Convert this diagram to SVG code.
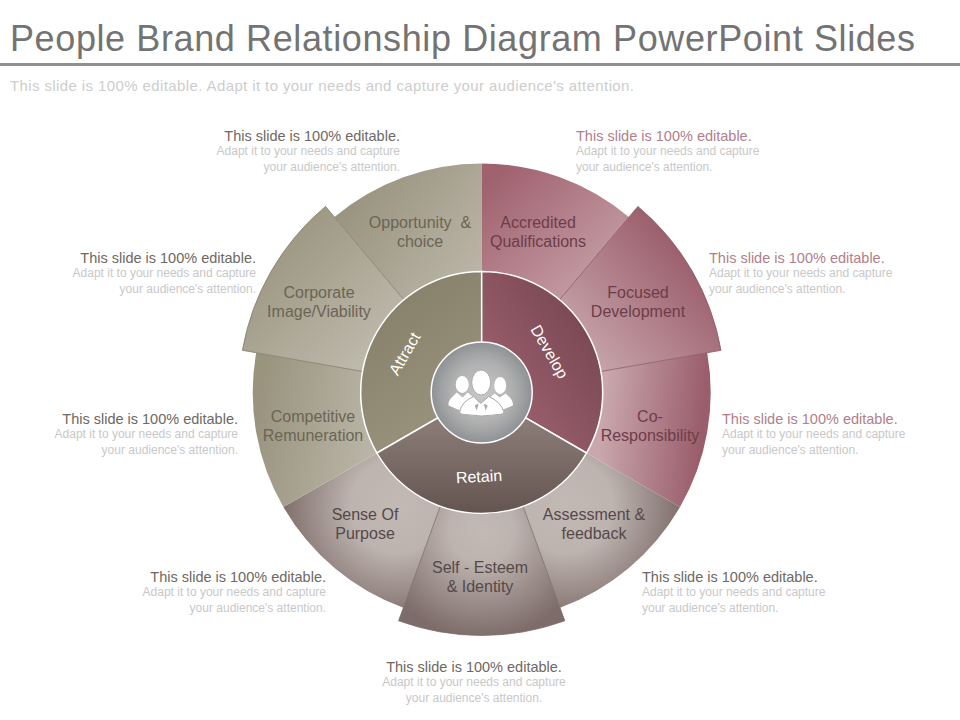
<svg xmlns="http://www.w3.org/2000/svg" width="960" height="720" viewBox="0 0 960 720">
<style>
text{font-family:"Liberation Sans",Arial,sans-serif}
.title{font-size:36px;fill:#737373}
.sub{font-size:15px;fill:#cdcdcd}
.h{font-size:14.5px;fill:#6d6862}
.hr{font-size:14.5px;fill:#b0808b}
.b{font-size:12px;fill:#c8c8c8}
.l{font-size:16px;text-anchor:middle}
.t{fill:#6a6555}.r{fill:#6e3d49}.g{fill:#55494a}
.w{font-size:16px;fill:#fff;text-anchor:middle}
.e{text-anchor:end}
.ring{stroke:#fff;stroke-width:1.5}
</style>
<defs>
<linearGradient id="tg1" gradientUnits="userSpaceOnUse" x1="340" y1="200" x2="470" y2="300"><stop offset="0" stop-color="#98927d"/><stop offset="1" stop-color="#bcb8aa"/></linearGradient>
<linearGradient id="tg2" gradientUnits="userSpaceOnUse" x1="260" y1="240" x2="370" y2="350"><stop offset="0" stop-color="#9a947f"/><stop offset="1" stop-color="#bcb8aa"/></linearGradient>
<linearGradient id="tg3" gradientUnits="userSpaceOnUse" x1="255" y1="420" x2="370" y2="440"><stop offset="0" stop-color="#9a947f"/><stop offset="1" stop-color="#b9b5a6"/></linearGradient>
<linearGradient id="rg1" gradientUnits="userSpaceOnUse" x1="490" y1="180" x2="600" y2="300"><stop offset="0" stop-color="#a0626f"/><stop offset="1" stop-color="#c8a3aa"/></linearGradient>
<linearGradient id="rg2" gradientUnits="userSpaceOnUse" x1="680" y1="250" x2="570" y2="350"><stop offset="0" stop-color="#9c606d"/><stop offset="1" stop-color="#c9a7ad"/></linearGradient>
<linearGradient id="rg3" gradientUnits="userSpaceOnUse" x1="600" y1="430" x2="700" y2="440"><stop offset="0" stop-color="#c9a7ad"/><stop offset="1" stop-color="#9a5d6b"/></linearGradient>
<radialGradient id="ga" gradientUnits="userSpaceOnUse" cx="565" cy="505" r="118"><stop offset="0" stop-color="#c2b9b5"/><stop offset=".4" stop-color="#bdb3af"/><stop offset="1" stop-color="#7d6c69"/></radialGradient>
<radialGradient id="gs" gradientUnits="userSpaceOnUse" cx="397" cy="505" r="118"><stop offset="0" stop-color="#c2b9b5"/><stop offset=".4" stop-color="#bdb3af"/><stop offset="1" stop-color="#7d6c69"/></radialGradient>
<radialGradient id="gm" gradientUnits="userSpaceOnUse" cx="481" cy="530" r="108"><stop offset="0" stop-color="#c2b9b5"/><stop offset=".3" stop-color="#bdb3af"/><stop offset="1" stop-color="#7d6c69"/></radialGradient>
<linearGradient id="ma" gradientUnits="userSpaceOnUse" x1="380" y1="300" x2="470" y2="420"><stop offset="0" stop-color="#87816b"/><stop offset="1" stop-color="#9a947f"/></linearGradient>
<linearGradient id="md" gradientUnits="userSpaceOnUse" x1="590" y1="340" x2="500" y2="400"><stop offset="0" stop-color="#7c4a55"/><stop offset="1" stop-color="#9b5f6d"/></linearGradient>
<linearGradient id="mr" gradientUnits="userSpaceOnUse" x1="481" y1="425" x2="481" y2="512"><stop offset="0" stop-color="#897a76"/><stop offset="1" stop-color="#655551"/></linearGradient>
<radialGradient id="cg" cx=".5" cy=".5" r=".5"><stop offset="0" stop-color="#c9c9c9"/><stop offset=".6" stop-color="#b0b0b0"/><stop offset="1" stop-color="#8e9295"/></radialGradient>
</defs>
<g id="header">
<text class="title" x="10" y="51" textLength="905" lengthAdjust="spacing">People Brand Relationship Diagram PowerPoint Slides</text>
<rect x="0" y="63" width="960" height="3" fill="#8f8f8f"/>
<text class="sub" x="10" y="91" textLength="624" lengthAdjust="spacing">This slide is 100% editable. Adapt it to your needs and capture your audience's attention.</text>
</g>
<g transform="translate(.7 .5)">
<g id="seg-opportunity"><path d="M481 271A121 121 0 0 0 403.2 299.3L333.8 216.6A229 229 0 0 1 481 163Z" fill="url(#tg1)"/></g>
<g id="seg-accredited"><path d="M481 271V163A229 229 0 0 1 628.2 216.6L558.8 299.3A121 121 0 0 0 481 271Z" fill="url(#rg1)"/></g>
<g id="seg-coresp"><path d="M600.2 371L706.5 352.2A229 229 0 0 1 679.3 506.5L585.8 452.5A121 121 0 0 0 600.2 371Z" fill="url(#rg3)"/></g>
<g id="seg-assessment"><path d="M585.8 452.5L679.3 506.5A229 229 0 0 1 559.3 607.2L522.4 505.7A121 121 0 0 0 585.8 452.5Z" fill="url(#ga)"/></g>
<g id="seg-sense"><path d="M439.6 505.7L402.7 607.2A229 229 0 0 1 282.7 506.5L376.2 452.5A121 121 0 0 0 439.6 505.7Z" fill="url(#gs)"/></g>
<g id="seg-competitive"><path d="M376.2 452.5L282.7 506.5A229 229 0 0 1 255.5 352.2L361.8 371A121 121 0 0 0 376.2 452.5Z" fill="url(#tg3)"/></g>
<g id="seg-corporate"><path d="M361.8 371L241.7 349.8A243 243 0 0 1 324.8 205.9L403.2 299.3A121 121 0 0 0 361.8 371Z" fill="url(#tg2)" stroke="#7f7a68" stroke-width=".8"/></g>
<g id="seg-focused"><path d="M558.8 299.3L637.2 205.9A243 243 0 0 1 720.3 349.8L600.2 371A121 121 0 0 0 558.8 299.3Z" fill="url(#rg2)" stroke="#8a5561" stroke-width=".8"/></g>
<g id="seg-self"><path d="M522.4 505.7L564.1 620.3A243 243 0 0 1 397.9 620.3L439.6 505.7A121 121 0 0 0 522.4 505.7Z" fill="url(#gm)" stroke="#7d6c69" stroke-width=".8"/></g>
<g id="ring-attract"><path d="M481 392L376.2 452.5A121 121 0 0 1 481 271Z" fill="url(#ma)" class="ring"/></g>
<g id="ring-develop"><path d="M481 392V271A121 121 0 0 1 585.8 452.5Z" fill="url(#md)" class="ring"/></g>
<g id="ring-retain"><path d="M481 392L585.8 452.5A121 121 0 0 1 376.2 452.5Z" fill="url(#mr)" class="ring"/></g>
<g id="hub"><circle cx="481" cy="392" r="50.5" fill="url(#cg)" stroke="#fff" stroke-width="1.5"/>
<g fill="#fff">
<ellipse cx="461.5" cy="384" rx="6.5" ry="8.5"/><path d="M456 392L450 398Q447 402 448 405Q456 409 466 412L476 400L467 392L462 397Z"/>
<ellipse cx="499.5" cy="385" rx="6" ry="8.5"/><path d="M505 393L510 398Q513 402 512 405Q506 408 496 411L486 400L494 393L499 397Z"/>
<path d="M459 411Q461 401 473 396L480 403L488 396Q500 401 503 411Q503 414 498 414Q481 417 464 414Q459 414 459 411Z" stroke="#a9a9a9" stroke-width="1"/>
<ellipse cx="480.5" cy="382" rx="9.5" ry="12.5" stroke="#a9a9a9" stroke-width="1"/>
<path d="M478 403L476 410L474 405ZM483 403L485 410L487 405Z" fill="#a9a9a9"/>
</g></g>
</g>
<g id="labels-ring">
<text class="w" transform="translate(405,354) rotate(-60)" x="0" y="5">Attract</text>
<text class="w" transform="translate(549,352) rotate(60)" x="0" y="5">Develop</text>
<text class="w" transform="translate(479,477) rotate(-3)" x="0" y="5">Retain</text>
</g>
<g id="labels-seg">
<text class="l t" x="420" y="228" xml:space="preserve">Opportunity  &amp;</text><text class="l t" x="420" y="247">choice</text>
<text class="l t" x="319" y="298">Corporate</text><text class="l t" x="319" y="317">Image/Viability</text>
<text class="l t" x="313" y="422">Competitive</text><text class="l t" x="313" y="441">Remuneration</text>
<text class="l r" x="538" y="228">Accredited</text><text class="l r" x="538" y="247">Qualifications</text>
<text class="l r" x="638" y="298">Focused</text><text class="l r" x="638" y="317">Development</text>
<text class="l r" x="650" y="422">Co-</text><text class="l r" x="650" y="441">Responsibility</text>
<text class="l g" x="594" y="520">Assessment &amp;</text><text class="l g" x="594" y="539">feedback</text>
<text class="l g" x="480" y="573">Self - Esteem</text><text class="l g" x="480" y="592">&amp; Identity</text>
<text class="l g" x="365" y="520">Sense Of</text><text class="l g" x="365" y="539">Purpose</text>
</g>
<g id="captions">
<g><text class="h e" x="400" y="141">This slide is 100% editable.</text><text class="b e" x="400" y="155">Adapt it to your needs and capture</text><text class="b e" x="400" y="171">your audience's attention.</text></g>
<g><text class="h e" x="256" y="263">This slide is 100% editable.</text><text class="b e" x="256" y="277">Adapt it to your needs and capture</text><text class="b e" x="256" y="293">your audience's attention.</text></g>
<g><text class="h e" x="238" y="424">This slide is 100% editable.</text><text class="b e" x="238" y="438">Adapt it to your needs and capture</text><text class="b e" x="238" y="454">your audience's attention.</text></g>
<g><text class="h e" x="326" y="582">This slide is 100% editable.</text><text class="b e" x="326" y="596">Adapt it to your needs and capture</text><text class="b e" x="326" y="612">your audience's attention.</text></g>
<g><text class="hr" x="576" y="141">This slide is 100% editable.</text><text class="b" x="576" y="155">Adapt it to your needs and capture</text><text class="b" x="576" y="171">your audience's attention.</text></g>
<g><text class="hr" x="709" y="263">This slide is 100% editable.</text><text class="b" x="709" y="277">Adapt it to your needs and capture</text><text class="b" x="709" y="293">your audience's attention.</text></g>
<g><text class="hr" x="722" y="424">This slide is 100% editable.</text><text class="b" x="722" y="438">Adapt it to your needs and capture</text><text class="b" x="722" y="454">your audience's attention.</text></g>
<g><text class="h" x="642" y="582">This slide is 100% editable.</text><text class="b" x="642" y="596">Adapt it to your needs and capture</text><text class="b" x="642" y="612">your audience's attention.</text></g>
<g style="text-anchor:middle"><text class="h" x="474" y="672">This slide is 100% editable.</text><text class="b" x="474" y="686">Adapt it to your needs and capture</text><text class="b" x="474" y="702">your audience's attention.</text></g>
</g>
</svg>
